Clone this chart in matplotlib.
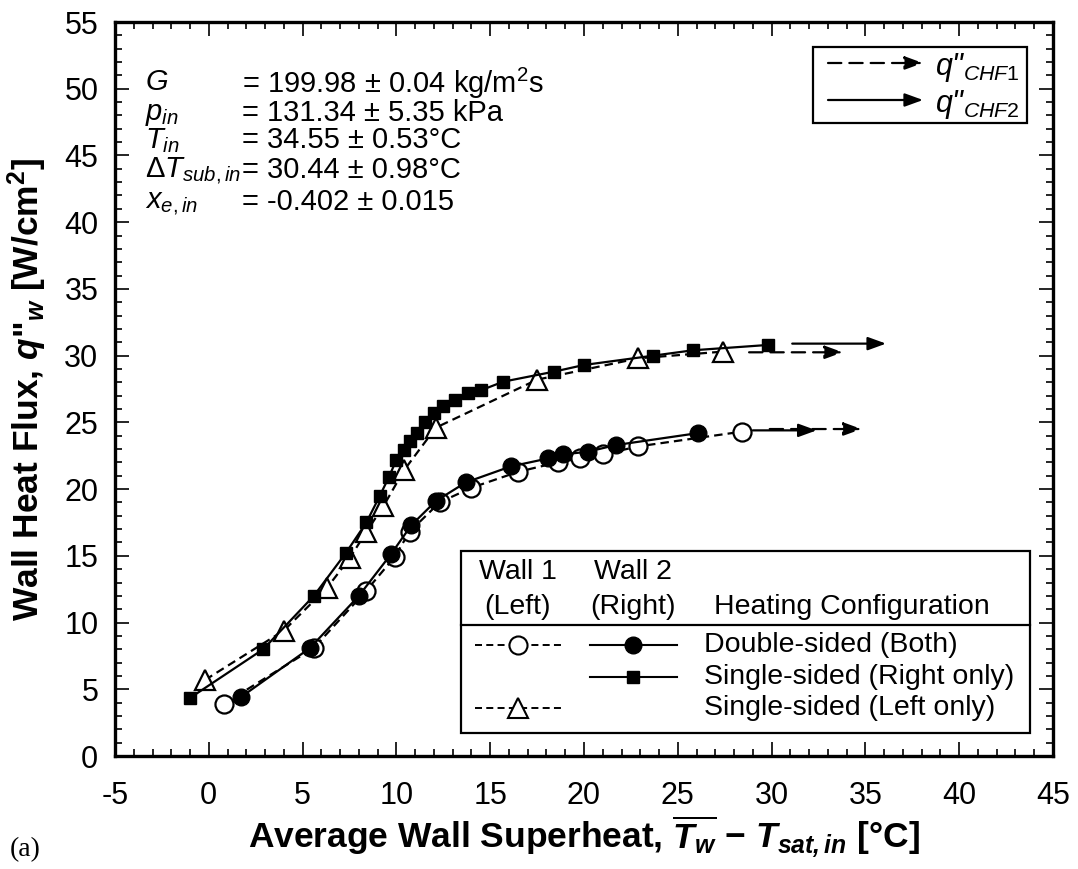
import matplotlib
matplotlib.use("Agg")
import matplotlib.pyplot as plt
from matplotlib.patches import Rectangle
from matplotlib.lines import Line2D

plt.rcParams["font.family"] = "Liberation Sans"
plt.rcParams["axes.unicode_minus"] = False
plt.rcParams["mathtext.fontset"] = "custom"
plt.rcParams["mathtext.rm"] = "Liberation Sans"
plt.rcParams["mathtext.it"] = "Liberation Sans:italic"
plt.rcParams["mathtext.bf"] = "Liberation Sans:bold:italic"
plt.rcParams["mathtext.sf"] = "Liberation Sans:bold"

# Wall 1, double-sided heating (open circles, dashed)
w1_both_x = [0.8, 5.6, 8.4, 9.9, 10.7, 12.3, 14.0, 16.5, 18.6, 19.8, 21.0, 22.9, 28.4]
w1_both_y = [3.9, 8.1, 12.4, 14.9, 16.8, 19.0, 20.1, 21.3, 22.0, 22.3, 22.6, 23.2, 24.3]
# Wall 2, double-sided heating (filled circles, solid)
w2_both_x = [1.7, 5.4, 8.0, 9.7, 10.8, 12.1, 13.7, 16.1, 18.1, 18.9, 20.2, 21.7, 26.1]
w2_both_y = [4.4, 8.1, 12.0, 15.1, 17.3, 19.1, 20.5, 21.7, 22.3, 22.6, 22.8, 23.3, 24.2]
# Wall 2, single-sided right (filled squares, solid)
w2_right_x = [-1.0, 2.9, 5.6, 7.3, 8.4, 9.1, 9.6, 10.0, 10.4, 10.7, 11.1, 11.5, 12.0,
              12.5, 13.1, 13.8, 14.5, 15.7, 18.4, 20.0, 23.7, 25.8, 29.8]
w2_right_y = [4.35, 8.0, 12.0, 15.2, 17.5, 19.45, 20.9, 22.2, 22.9, 23.6, 24.2, 25.0, 25.7,
              26.2, 26.7, 27.2, 27.4, 28.05, 28.8, 29.3, 30.0, 30.4, 30.8]
# Wall 1, single-sided left (open triangles, dashed)
w1_left_x = [-0.2, 4.0, 6.3, 7.5, 8.4, 9.3, 10.4, 12.1, 17.5, 22.9, 27.4]
w1_left_y = [5.7, 9.4, 12.6, 14.8, 16.8, 18.7, 21.4, 24.6, 28.2, 29.8, 30.3]

# CHF arrows: start x, end x, y
chf1_start = [29.9, 28.8]
chf1_end = [34.8, 33.8]
chf1_y = [24.5, 30.25]
chf2_start = [29.0, 31.1]
chf2_end = [32.4, 36.1]
chf2_y = [24.4, 30.9]

W, H = 1078, 869
fig = plt.figure(figsize=(W / 100, H / 100), dpi=100)
L, R, T, B = 115, 1053, 22, 756
ax = fig.add_axes([L / W, 1 - B / H, (R - L) / W, (B - T) / H])

def fx(px):
    return (px - L) / (R - L)

def fy(py):
    return (B - py) / (B - T)

lw = 1.6
dash = (3.8, 2.3)
head = "-|>,head_length=1.1,head_width=0.4"
ax.plot(w1_both_x, w1_both_y, ls="--", dashes=dash, color="k", lw=lw, marker="o",
        ms=13, mfc="white", mec="k", mew=1.6, zorder=3)
ax.plot(w2_both_x, w2_both_y, ls="-", color="k", lw=lw, marker="o",
        ms=12, mfc="k", mec="k", zorder=4)
ax.plot(w1_left_x, w1_left_y, ls="--", dashes=dash, color="k", lw=lw, marker="^",
        ms=15, mfc="white", mec="k", mew=1.6, zorder=3)
ax.plot(w2_right_x, w2_right_y, ls="-", color="k", lw=lw, marker="s",
        ms=8, mfc="k", mec="k", zorder=4)

for x0, x1, y in zip(chf1_start, chf1_end, chf1_y):
    ax.annotate("", xy=(x1, y), xytext=(x0, y),
                arrowprops=dict(arrowstyle=head, lw=lw, ls=(0, (6, 3.6)), color="k",
                                shrinkA=0, shrinkB=0))
for x0, x1, y in zip(chf2_start, chf2_end, chf2_y):
    ax.annotate("", xy=(x1, y), xytext=(x0, y),
                arrowprops=dict(arrowstyle=head, lw=lw, color="k", shrinkA=0, shrinkB=0))

ax.set_xlim(-5, 45)
ax.set_ylim(0, 55)
ax.set_xticks(range(-5, 46, 5))
ax.set_yticks(range(0, 56, 5))
ax.set_xticks(range(-5, 46), minor=True)
ax.set_yticks(range(0, 56), minor=True)
ax.tick_params(which="both", direction="in", top=True, right=True, labelsize=22, width=1.2)
ax.tick_params(which="major", length=10)
ax.tick_params(which="minor", length=5)
ax.tick_params(axis="x", which="major", pad=18)
ax.tick_params(axis="y", which="major", pad=12)
for s in ax.spines.values():
    s.set_linewidth(2.4)

ax.set_xlabel(r"Average Wall Superheat, $\overline{\mathbf{T}_\mathbf{w}}$ $\mathsf{-}$ $\mathbf{T}_\mathbf{sat,in}$ [°C]",
              fontsize=25.5, fontweight="bold", labelpad=2)
ax.set_ylabel(r'Wall Heat Flux, $\mathbf{q}$"${}_\mathbf{w}$ [W/cm$^\mathsf{2}$]',
              fontsize=25.5, fontweight="bold", labelpad=11)

# operating conditions
cond_names = [r"$\mathit{G}$", r"$\mathit{p}_{\mathit{in}}$", r"$\mathit{T}_{\mathit{in}}$",
              r"$\Delta\mathit{T}_{\mathit{sub,in}}$", r"$\mathit{x}_{\mathit{e,in}}$"]
cond_vals = [r"= 199.98 ± 0.04 kg/m$^{\mathrm{2}}$s", "= 131.34 ± 5.35 kPa", "= 34.55 ± 0.53°C",
             "= 30.44 ± 0.98°C", "= -0.402 ± 0.015"]
row_py = [79, 110, 137, 167, 199]
for name, val, py in zip(cond_names, cond_vals, row_py):
    ax.text(fx(145), fy(py), name, transform=ax.transAxes, fontsize=21, va="center_baseline")
    ax.text(fx(242), fy(py), val, transform=ax.transAxes, fontsize=21, va="center_baseline")

# CHF legend (top right)
ax.add_patch(Rectangle((fx(813), fy(123)), fx(1027) - fx(813), fy(47) - fy(123),
                       transform=ax.transAxes, fill=False, lw=1.6, ec="k"))
for py, ls, lab in [(63, (0, (6, 3.6)), r'q"${}_{\mathit{CHF1}}$'),
                    (100, "-", r'q"${}_{\mathit{CHF2}}$')]:
    ax.annotate("", xy=(fx(923), fy(py)), xytext=(fx(828), fy(py)),
                xycoords="axes fraction", textcoords="axes fraction",
                arrowprops=dict(arrowstyle=head, lw=lw, ls=ls, color="k", shrinkA=0, shrinkB=0))
    ax.text(fx(935), fy(py), lab, transform=ax.transAxes, fontsize=22, style="italic",
            va="center_baseline")

# configuration legend (bottom right)
ax.add_patch(Rectangle((fx(461), fy(733)), fx(1030) - fx(461), fy(551) - fy(733),
                       transform=ax.transAxes, fill=False, lw=1.6, ec="k", zorder=5))
ax.add_line(Line2D([fx(461), fx(1030)], [fy(625), fy(625)], transform=ax.transAxes,
                   color="k", lw=1.6, zorder=5))
head_txt = [(518, 572, "Wall 1"), (518, 607, "(Left)"), (633, 572, "Wall 2"),
            (633, 607, "(Right)"), (852, 607, "Heating Configuration")]
for px, py, s in head_txt:
    ax.text(fx(px), fy(py), s, transform=ax.transAxes, fontsize=20.5, ha="center", va="center")
rows = [(645, "Double-sided (Both)", "o", ("o", 12)),
        (677, "Single-sided (Right only)", None, ("s", 8.5)),
        (708, "Single-sided (Left only)", "^", None)]
for py, lab, m1, m2 in rows:
    if m1:
        ax.add_line(Line2D([fx(475), fx(562)], [fy(py), fy(py)], transform=ax.transAxes,
                           color="k", lw=1.4, ls="--", dashes=(3.6, 2.2)))
        ax.add_line(Line2D([fx(518)], [fy(py)], transform=ax.transAxes, marker=m1,
                           ms=13 if m1 == "o" else 15, mfc="white", mec="k", mew=1.5, ls="none"))
    if m2:
        ax.add_line(Line2D([fx(590), fx(677)], [fy(py), fy(py)], transform=ax.transAxes,
                           color="k", lw=1.5, ls="-"))
        ax.add_line(Line2D([fx(633)], [fy(py)], transform=ax.transAxes, marker=m2[0],
                           ms=m2[1], mfc="k", mec="k", ls="none"))
    ax.text(fx(704), fy(py), lab, transform=ax.transAxes, fontsize=20.5, va="center")

fig.text(10 / W, 1 - 850 / H, "(a)", fontsize=20, family="Liberation Serif", va="center")

fig.savefig("out.png", dpi=100)
